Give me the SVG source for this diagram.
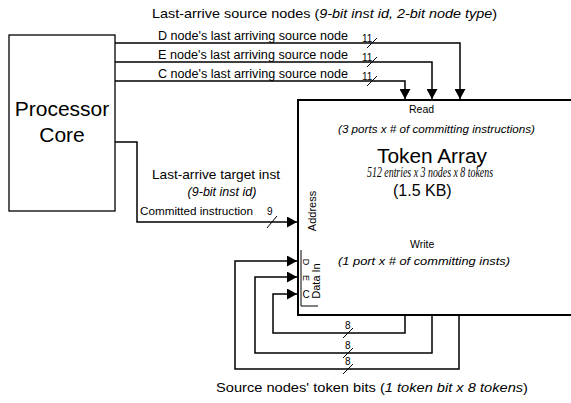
<svg xmlns="http://www.w3.org/2000/svg" width="571" height="403" viewBox="0 0 571 403">
<style>
text{font-family:"Liberation Sans",Arial,sans-serif;fill:#000}
.it{font-style:italic}
.lbl{font-size:12px}
.sm{font-size:10px}
.w{fill:none;stroke:#000;stroke-width:1.5}
.t{fill:none;stroke:#000;stroke-width:1}
.box{fill:#fff;stroke:#000}
</style>
<defs>
<marker id="ah" markerUnits="userSpaceOnUse" markerWidth="11" markerHeight="11" viewBox="0 0 11 11" refX="10" refY="5.5" orient="auto">
<path d="M0,0 L10,5.5 L0,11 Z" fill="#000"/>
</marker>
</defs>
<rect width="571" height="403" fill="#fff"/>

<g id="processor-core">
<rect class="box" x="9" y="35" width="106" height="176" stroke-width="1.3"/>
<text x="62" y="116" font-size="21" text-anchor="middle">Processor</text>
<text x="62" y="142" font-size="21" text-anchor="middle">Core</text>
</g>

<g id="token-array">
<path d="M571,100 H298 V315 H571" fill="none" stroke="#000" stroke-width="2"/>
<text x="409" y="113" font-size="10.5">Read</text>
<text x="338" y="133" font-size="11" class="it" textLength="197" lengthAdjust="spacingAndGlyphs">(3 ports x # of committing instructions)</text>
<text x="377" y="163" font-size="20" textLength="110" lengthAdjust="spacingAndGlyphs">Token  Array</text>
<text x="367" y="177" font-size="14" class="it" style="font-family:'Liberation Serif',serif" textLength="126" lengthAdjust="spacingAndGlyphs">512 entries x 3 nodes x 8 tokens</text>
<text x="393" y="196" font-size="16">(1.5 KB)</text>
<text x="410" y="248" font-size="10.5">Write</text>
<text x="338" y="265" font-size="11" class="it" textLength="172" lengthAdjust="spacingAndGlyphs">(1 port x # of committing insts)</text>
<text transform="translate(316,211) rotate(-90)" font-size="11" text-anchor="middle">Address</text>
<text transform="translate(320,281) rotate(-90)" font-size="11" text-anchor="middle">Data In</text>
<text transform="translate(303,262) rotate(90)" font-size="9" text-anchor="middle">D</text>
<text transform="translate(303,278) rotate(90)" font-size="9" text-anchor="middle">E</text>
<text x="306" y="298" font-size="10" text-anchor="middle">C</text>
<path class="t" d="M301,250 V306 H318"/>
</g>

<g id="connectors">
<path class="w" d="M115,43 H460 V99" marker-end="url(#ah)"/>
<path class="w" d="M115,62 H432 V99" marker-end="url(#ah)"/>
<path class="w" d="M115,81 H405 V99" marker-end="url(#ah)"/>
<path class="w" d="M115,142 H137 V222 H297" marker-end="url(#ah)"/>
<path class="w" d="M459,315 V369 H235 V261 H297" marker-end="url(#ah)"/>
<path class="w" d="M432,315 V353 H255 V277 H297" marker-end="url(#ah)"/>
<path class="w" d="M405,315 V333 H273 V294 H297" marker-end="url(#ah)"/>
<g class="t">
<path d="M367,48 L377,38"/>
<path d="M367,67 L377,57"/>
<path d="M367,86 L377,76"/>
<path d="M267,228 L277,216"/>
<path d="M343,338 L353,328"/>
<path d="M343,358 L353,348"/>
<path d="M343,374 L353,364"/>
</g>
</g>

<g id="labels">
<text x="152" y="18" font-size="13" textLength="345" lengthAdjust="spacingAndGlyphs">Last-arrive source nodes (<tspan class="it">9-bit inst id, 2-bit node type</tspan>)</text>
<text x="158" y="40" class="lbl" textLength="190" lengthAdjust="spacingAndGlyphs">D node's last arriving source node</text>
<text x="158" y="59" class="lbl" textLength="190" lengthAdjust="spacingAndGlyphs">E node's last arriving source node</text>
<text x="158" y="78" class="lbl" textLength="190" lengthAdjust="spacingAndGlyphs">C node's last arriving source node</text>
<text x="362" y="42" class="sm">11</text>
<text x="362" y="61" class="sm">11</text>
<text x="362" y="80" class="sm">11</text>
<text x="152" y="179" font-size="13" textLength="128" lengthAdjust="spacingAndGlyphs">Last-arrive target inst</text>
<text x="222" y="196" font-size="12.5" text-anchor="middle" class="it">(9-bit inst id)</text>
<text x="140" y="215" font-size="11" textLength="113" lengthAdjust="spacingAndGlyphs">Committed instruction</text>
<text x="267" y="215" class="sm">9</text>
<text x="345" y="329" class="sm">8</text>
<text x="345" y="349" class="sm">8</text>
<text x="345" y="365" class="sm">8</text>
<text x="216" y="392" font-size="13" textLength="312" lengthAdjust="spacingAndGlyphs">Source nodes' token bits (<tspan class="it">1 token bit x 8 tokens</tspan>)</text>
</g>
</svg>
